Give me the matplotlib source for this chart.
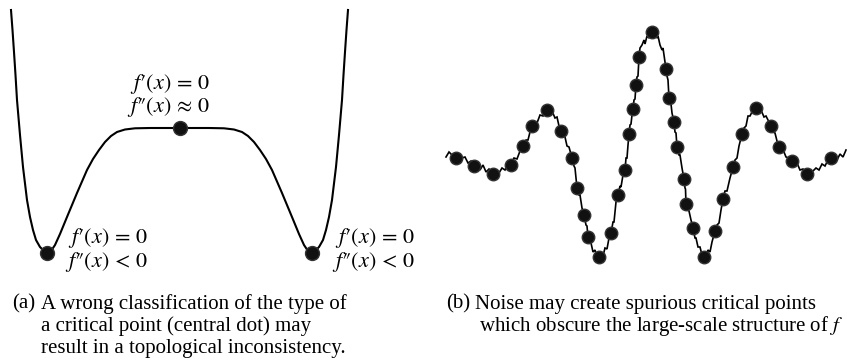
import matplotlib.pyplot as plt

plt.rcParams['font.family'] = 'Liberation Serif'
plt.rcParams['mathtext.fontset'] = 'stix'

# (a) double well with a very flat top
well_x = [-168.5, -167, -165.5, -164, -162.5, -159.5, -156.5, -152.5, -149.5, -146.5,
          -143.5, -139.5, -135.5, -132.5, -128.5, -124.5, -119.5, -112.5, -102.5, -92.5,
          -86.5, -80.5, -74.5, -68.5, -62.5, -54.5, -44.5, -29.5, -14.5, 0]
well_y = [243, 223, 201, 178, 153, 118, 86, 53, 36, 23,
          13, 6, 2, 0, 2, 8, 19, 36, 60, 83,
          94, 103, 111, 117, 121, 123.5, 124.7, 125, 125, 125]
# right half is the mirror image
well_x = well_x + [-v for v in well_x[-2::-1]]
well_y = well_y + well_y[-2::-1]
well_crit_x = [-132.5, 0, 132.5]
well_crit_y = [0, 125, 0]

# (b) noisy wave packet
wave_x = [-206, -203, -200, -196, -193, -190, -187, -184, -181, -178, -175, -172, -169, -166,
          -163, -159, -156, -153, -150, -147, -144, -141, -138, -135, -132, -129, -126, -124,
          -122, -120, -117, -115, -112, -109, -107, -105, -102, -100, -97, -95, -93, -91, -89,
          -87, -85, -83, -80, -78, -77, -75, -73, -72, -70, -68, -66, -65, -64, -62, -61, -59,
          -57, -55, -53, -51, -49, -47, -45, -43, -41, -39, -38, -36, -34, -32, -31, -29, -27,
          -26, -25, -24, -23, -22, -21, -20, -19, -18, -17, -16, -15, -14, -13, -12, -10, -8,
          -7, -5, -3, 0, 3, 5, 6, 8, 10, 11, 14, 15, 16, 17, 18, 19, 20, 22, 23, 24, 25, 27, 28,
          30, 32, 33, 33.5, 34, 36, 37, 39, 41, 43, 44, 46, 48, 50, 52, 54, 56, 58, 60, 63, 65,
          67, 69, 71, 73, 75, 78, 81, 83, 85, 87, 90, 92, 94, 96, 98, 100, 102, 104, 107, 109,
          112, 114, 117, 119, 121, 123, 125, 127, 130, 132, 134, 137, 140, 143, 145, 148, 151,
          155, 158, 161, 164, 167, 170, 173, 176, 179, 182, 185, 188, 191, 194]
wave_y = [0, 5, 2, -1, 2, -1, 0, -6, -4, -9, -7, -13, -8, -15,
          -12, -17, -14, -16, -11, -13, -7, -8, -1, -2, 6, 11, 17, 17,
          25, 31, 35, 34, 42, 41, 46, 47, 45, 46, 39, 40, 31, 26, 22,
          20, 11, 10, -1, -9, -11, -31, -38, -38, -51, -58, -68, -69, -80, -86, -86, -95,
          -93, -100, -100, -98, -99, -91, -92, -81, -76, -65, -65, -45, -38, -29, -30, -18, -13,
          -1, -1, 12, 23, 32, 33, 42, 48, 57, 58, 72, 80, 81, 100, 109, 112, 117,
          113, 121, 119, 125, 124, 119, 121, 112, 107, 109, 88, 81, 77, 59, 54, 53, 44, 35, 25, 24, 10, 2, 2,
          -11, -22, -31, -32, -47, -53, -54, -63, -71, -81, -81, -90, -90, -98, -100, -99, -93, -95, -85, -74, -68,
          -66, -53, -42, -34, -34, -21, -10, -3, -1, 11, 23, 29, 31, 41, 41, 45, 47, 49, 45, 47,
          40, 41, 35, 31, 25, 24, 16, 10, 7, 5, 0, -1, -4, -9, -6, -13, -12,
          -17, -15, -14, -11, -13, -7, -9, -3, -1, 0, -3, 3, 0, 7]
wave_crit_x = [-196, -178, -159, -141, -129, -120, -105, -91, -80, -75, -68, -64, -53,
               -41, -34, -27, -23, -19, -16, -13, 0, 14, 17, 22, 25, 32, 34, 41, 52,
               63, 71, 81, 90, 104, 119, 127, 140, 155, 179]
wave_crit_y = [-1, -9, -17, -8, 11, 31, 47, 26, -1, -31, -58, -80, -100,
               -76, -38, -13, 23, 48, 72, 100, 125, 88, 59, 35, 10, -22, -47, -71, -100,
               -74, -42, -10, 23, 49, 31, 10, -4, -17, -1]

W, H = 847, 361
fig = plt.figure(figsize=(W / 100, H / 100), dpi=100)

ax_a = fig.add_axes([0, 81 / H, 420 / W, 280 / H])
ax_a.plot(well_x, well_y, color='black', lw=1.5, solid_joinstyle='round')
ax_a.plot(well_crit_x, well_crit_y, 'o', color='#111111', ms=10, mec='#333333')
ax_a.set_xlim(-179.5, 240.5)
ax_a.set_ylim(-27, 253)
ax_a.axis('off')

top_label = "$f\u2032(x) \\,=\\, 0$\n$f\u2033(x) \\,\\approx\\, 0$"
min_label = "$f\u2032(x) \\,=\\, 0$\n$f\u2033(x) \\,<\\, 0$"
math_kw = dict(fontsize=16, ha='right', va='baseline', multialignment='right',
               linespacing=0.95)
ax_a.text(30.5, 141, top_label, **math_kw)
ax_a.text(-31.5, -13.5, min_label, **math_kw)
ax_a.text(235.5, -13.5, min_label, **math_kw)

ax_b = fig.add_axes([440 / W, 81 / H, 407 / W, 280 / H])
ax_b.plot(wave_x, wave_y, color='black', lw=1.2, solid_joinstyle='miter')
ax_b.plot(wave_crit_x, wave_crit_y, 'o', color='#111111', ms=9, mec='#333333')
ax_b.set_xlim(-212, 195)
ax_b.set_ylim(-123, 157)
ax_b.axis('off')

# sub-captions
cap_kw = dict(fontsize=15, va='baseline', ha='left')
fig.text(12 / W, 1 - 308.5 / H, "(a)", **cap_kw)
fig.text(41 / W, 1 - 308.5 / H, "A wrong classification of the type of", **cap_kw)
fig.text(41 / W, 1 - 330.5 / H, "a critical point (central dot) may", **cap_kw)
fig.text(41 / W, 1 - 352.5 / H, "result in a topological inconsistency.", **cap_kw)
fig.text(446 / W, 1 - 308.5 / H, "(b)", **cap_kw)
fig.text(475 / W, 1 - 308.5 / H, "Noise may create spurious critical points", **cap_kw)
fig.text(843 / W, 1 - 330.5 / H, "which obscure the large-scale structure of $f$",
         **dict(cap_kw, ha='right'))

fig.savefig('out.png', dpi=100, facecolor='white')
